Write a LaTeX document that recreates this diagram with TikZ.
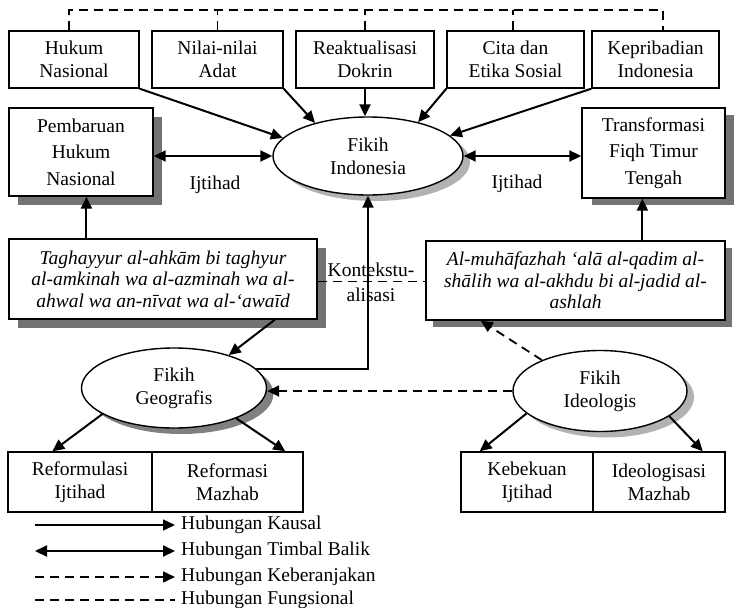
\documentclass[tikz,border=0pt]{standalone}
\usepackage{fontspec}
\setmainfont{Liberation Serif}
\usepackage{tikz}
\usetikzlibrary{arrows.meta}
\usetikzlibrary{shapes.geometric}
\usetikzlibrary{shadows}

\begin{document}
\begin{tikzpicture}[x=1pt, y=1pt,
  font=\fontsize{19.5}{23}\selectfont,
  box/.style={draw, line width=1.4pt, fill=white, align=center, inner sep=0pt},
  topbox/.style={box, minimum height=57},
  lowbox/.style={box, minimum height=60},
  boxshadow/.style={drop shadow={shadow xshift=9pt, shadow yshift=-9pt,
      fill=black!55, opacity=1}},
  oval/.style={ellipse, draw, line width=1.4pt, fill=white, align=center,
      inner sep=0pt},
  ovalshadow/.style={drop shadow={shadow xshift=7pt, shadow yshift=-6pt,
      fill=black!#1, opacity=1}},
  causal/.style={line width=2pt, -{Triangle[length=12pt, width=11pt]}},
  mutual/.style={line width=2pt,
      {Triangle[length=12pt, width=11pt]}-{Triangle[length=12pt, width=11pt]}},
  movearrow/.style={line width=1.8pt, dash pattern=on 9pt off 6pt,
      -{Triangle[length=12pt, width=11pt]}},
  funcline/.style={line width=1.6pt, dash pattern=on 9pt off 6pt},
  legend/.style={anchor=west, inner sep=0pt, inner xsep=6pt}]

\useasboundingbox (0, 0) rectangle (734, -608);

\draw (74, -59.5) node[topbox, minimum width=130] (hukum) {Hukum\\Nasional};
\draw (217.5, -59.5) node[topbox, minimum width=131] (nilai) {Nilai-nilai\\Adat};
\draw (365, -59.5) node[topbox, minimum width=138] (reakt) {Reaktualisasi\\Dokrin};
\draw (515.5, -59.5) node[topbox, minimum width=137] (cita) {Cita dan\\Etika Sosial};
\draw (655.5, -59.5) node[topbox, minimum width=127] (kepri) {Kepribadian\\Indonesia};

\coordinate (topline) at (0, -10);
\coordinate (dashhukum) at ([xshift=-5pt]hukum.north);
\coordinate (dashcita) at ([xshift=-2.5pt]cita.north);
\coordinate (dashkepri) at ([xshift=7.5pt]kepri.north);
\draw[funcline] (dashhukum) |- (dashkepri |- topline) -- (dashkepri);
\draw[funcline] (nilai.north) -- (nilai.north |- topline);
\draw[funcline] (reakt.north) -- (reakt.north |- topline);
\draw[funcline] (dashcita) -- (dashcita |- topline);

\draw (81, -152) node[box, boxshadow, minimum width=144, minimum height=88,
  font=\fontsize{19.5}{26.5}\selectfont] (pembaruan) {Pembaruan\\Hukum\\Nasional};
\draw (653.5, -153) node[box, drop shadow={shadow xshift=10pt, shadow yshift=-7pt,
  fill=black!55, opacity=1}, minimum width=143, minimum height=90,
  font=\fontsize{19.5}{26.5}\selectfont] (transformasi) {Transformasi\\Fiqh Timur\\Tengah};

\draw (368, -156) node[oval, ovalshadow=30, minimum width=190, minimum height=78]
  (fikihindo) {Fikih\\Indonesia};

\draw[causal] (hukum.south east) -- (fikihindo.168);
\draw[causal] (nilai.south east) -- (fikihindo.148);
\draw[causal] (reakt.south) -- (reakt.south |- fikihindo.north);
\draw[causal] (cita.south west) -- (fikihindo.34);
\draw[causal] (kepri.south west) -- (fikihindo.14);

\draw[mutual] (pembaruan.east |- fikihindo.west) -- (fikihindo.west);
\draw[mutual] (fikihindo.east) -- (transformasi.west |- fikihindo.east);
\draw (215, -185) node (ijtihadkiri) {Ijtihad};
\draw (517, -184) node (ijtihadkanan) {Ijtihad};

\draw (163, -279) node[box, boxshadow, minimum width=308, minimum height=80,
  font=\itshape\fontsize{19.5}{21.5}\selectfont] (taghayyur)
  {Taghayyur al-ahkām bi taghyur\\al-amkinah wa al-azminah wa al-\\ahwal wa an-nīvat wa al-‘awaīd};
\draw (575.5, -280.5) node[box, drop shadow={shadow xshift=7pt, shadow yshift=-7pt,
  fill=black!55, opacity=1}, minimum width=299, minimum height=79,
  font=\itshape\fontsize{19.5}{21.5}\selectfont] (muhafazhah)
  {Al-muhāfazhah ‘alā al-qadim al-\\shālih wa al-akhdu bi al-jadid al-\\ashlah};

\draw[causal] (taghayyur.152.5) -- (taghayyur.152.5 |- pembaruan.south);
\draw[causal] (muhafazhah.31.9) -- (muhafazhah.31.9 |- transformasi.south);

\draw[funcline, line width=1.2pt] (taghayyur.-1) -- (taghayyur.-1 -| muhafazhah.west);
\draw (371, -282) node[align=center, font=\fontsize{19.5}{25}\selectfont]
  (konteks) {Kontekstu-\\alisasi};

\draw (174, -388) node[oval, ovalshadow=50, minimum width=185, minimum height=80]
  (geo) {Fikih\\Geografis};
\draw (600, -391) node[oval, ovalshadow=30, minimum width=174, minimum height=81]
  (ideol) {Fikih\\Ideologis};

\draw[causal] (geo.13) -| (fikihindo.south);
\draw[causal] (taghayyur.-20.5) -- (geo.31);
\draw[movearrow] (ideol.152) -- (muhafazhah.203);
\draw[movearrow] (ideol.west) -- (ideol.west -| geo.east);

\draw (80, -482) node[lowbox, minimum width=144] (reformulasi) {Reformulasi\\Ijtihad};
\draw (227.5, -482) node[lowbox, minimum width=151] (reformasi) {Reformasi\\Mazhab};
\draw (527, -482) node[lowbox, minimum width=132] (kebekuan) {Kebekuan\\Ijtihad};
\draw (659, -482) node[lowbox, minimum width=132] (ideologisasi) {Ideologisasi\\Mazhab};

\draw[causal] (geo.200) -- (reformulasi.132);
\draw[causal] (geo.-26) -- (reformasi.28);
\draw[causal] (ideol.197.7) -- (kebekuan.147.5);
\draw[causal] (ideol.-20.4) -- (ideologisasi.35);

\coordinate (kausal) at (35, -525);
\coordinate (timbal) at (35, -551);
\coordinate (beranjak) at (35, -577);
\coordinate (fungsi) at (35, -600);
\draw (175, -525) node[legend] (lkausal) {Hubungan Kausal};
\draw (175, -551) node[legend] (ltimbal) {Hubungan Timbal Balik};
\draw (175, -577) node[legend] (lberanjak) {Hubungan Keberanjakan};
\draw (175, -600) node[legend] (lfungsi) {Hubungan Fungsional};
\draw[causal, line width=1.4pt] (kausal) -- (lkausal.west);
\draw[mutual] (timbal) -- (ltimbal.west);
\draw[movearrow, line width=1.5pt] (beranjak) -- (lberanjak.west);
\draw[funcline] (fungsi) -- (lfungsi.west);
\end{tikzpicture}
\end{document}
